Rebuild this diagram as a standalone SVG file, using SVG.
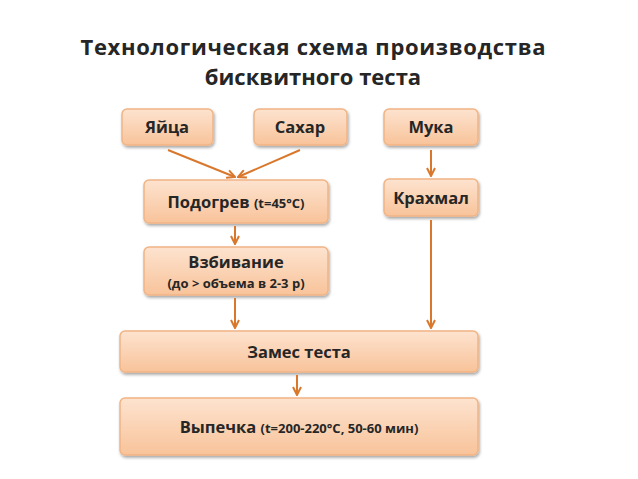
<svg xmlns="http://www.w3.org/2000/svg" width="638" height="479" viewBox="0 0 638 479">
<defs>
<linearGradient id="g" x1="0" y1="0" x2="0" y2="1"><stop offset="0" stop-color="#fde3cf"/><stop offset="1" stop-color="#f8c39a"/></linearGradient>
<marker id="a" markerWidth="10" markerHeight="10" refX="9" refY="5" orient="auto" markerUnits="userSpaceOnUse"><path d="M1,1 L9,5 L1,9" fill="none" stroke="#d9782c" stroke-width="2"/></marker>
<filter id="s" x="-10%" y="-20%" width="120%" height="150%"><feDropShadow dx="1" dy="2" stdDeviation="1.5" flood-opacity="0.35"/></filter>
</defs>
<style>
.b{fill:url(#g);stroke:#f1b485;stroke-width:1.5;filter:url(#s)}
text{font-family:"Open Sans","Liberation Sans",sans-serif;font-weight:bold;fill:#262626;text-anchor:middle}
.t{font-size:16.5px}
.s{font-size:13px}
.c{stroke:#d9782c;stroke-width:2;fill:none;marker-end:url(#a)}
</style>
<text x="313" y="55" style="font-size:22px" textLength="465">Технологическая схема производства</text>
<text x="313" y="85" style="font-size:22px">бисквитного теста</text>
<g id="n1"><rect class="b" x="122" y="109" width="91" height="36" rx="5"/><text class="t" x="167" y="133">Яйца</text></g>
<g id="n2"><rect class="b" x="254" y="109" width="93" height="36" rx="5"/><text class="t" x="300" y="133">Сахар</text></g>
<g id="n3"><rect class="b" x="384" y="109" width="94" height="36" rx="5"/><text class="t" x="431" y="133">Мука</text></g>
<g id="n4"><rect class="b" x="144" y="180" width="184" height="43" rx="5"/><text class="t" x="236" y="208">Подогрев <tspan class="s">(t=45°C)</tspan></text></g>
<g id="n5"><rect class="b" x="384" y="179" width="94" height="37" rx="5"/><text class="t" x="431" y="204">Крахмал</text></g>
<g id="n6"><rect class="b" x="144" y="247" width="184" height="48" rx="5"/><text class="t" x="236" y="268">Взбивание</text><text class="s" x="236" y="288">(до &gt; объема в 2-3 р)</text></g>
<g id="n7"><rect class="b" x="120" y="331" width="358" height="41" rx="5"/><text class="t" x="299" y="358">Замес теста</text></g>
<g id="n8"><rect class="b" x="120" y="398" width="358" height="57" rx="5"/><text class="t" x="299" y="433">Выпечка  <tspan class="s">(t=200-220°C, 50-60 мин)</tspan></text></g>
<g id="connectors">
<line class="c" x1="168" y1="150" x2="235" y2="177"/>
<line class="c" x1="300" y1="150" x2="238" y2="177"/>
<line class="c" x1="235" y1="226" x2="235" y2="244"/>
<line class="c" x1="431" y1="150" x2="431" y2="176"/>
<line class="c" x1="431" y1="220" x2="431" y2="328"/>
<line class="c" x1="235" y1="298" x2="235" y2="328"/>
<line class="c" x1="297" y1="375" x2="297" y2="395"/>
</g>
</svg>
